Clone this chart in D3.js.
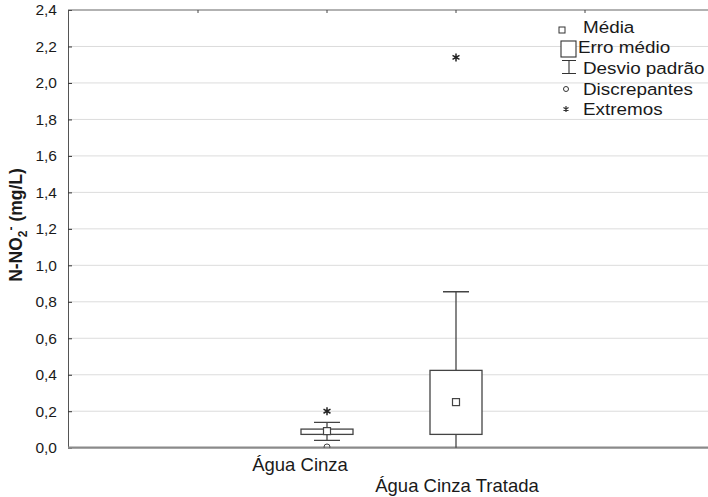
<!DOCTYPE html>
<html>
<head>
<meta charset="utf-8">
<script src="https://cdn.jsdelivr.net/npm/d3@7"></script>
<style>
  body { margin: 0; background: #fff; }
  text { font-family: "Liberation Sans", Arial, sans-serif; fill: #1a1a1a; }
</style>
</head>
<body>
<div id="chart"></div>
<script>
var categories = ["Água Cinza", "Água Cinza Tratada"];
var catPos = [2, 3];
var means = [0.091, 0.25];
var seLow = [0.073, 0.073];
var seHigh = [0.102, 0.424];
var sdLow = [0.04, -0.355];
var sdHigh = [0.139, 0.855];
var outliers = [[0.004], []];
var extremes = [[0.2], [2.14]];
var yTicks = [0, 0.2, 0.4, 0.6, 0.8, 1.0, 1.2, 1.4, 1.6, 1.8, 2.0, 2.2, 2.4];
var legendLabels = ["Média", "Erro médio", "Desvio padrão", "Discrepantes", "Extremos"];

var W = 708, H = 497;
var plotLeft = 68, plotTop = 10, plotBottom = 447.7;

var svg = d3.select("#chart").append("svg")
    .attr("width", W).attr("height", H);

var x = d3.scaleLinear().domain([0, 5]).range([69, 714]);
var y = d3.scaleLinear().domain([0, 2.4]).range([plotBottom, plotTop]);

svg.append("clipPath").attr("id", "plotclip")
  .append("rect").attr("x", plotLeft).attr("y", plotTop)
  .attr("width", W - plotLeft).attr("height", plotBottom - plotTop);

// grid
svg.selectAll(".grid").data(yTicks.slice(1, -1)).enter().append("line")
    .attr("x1", plotLeft).attr("x2", W)
    .attr("y1", function(d) { return y(d); }).attr("y2", function(d) { return y(d); })
    .attr("stroke", "#dcdcdc").attr("stroke-width", 1);

// left axis
var yAxis = d3.axisLeft(y).tickValues(yTicks).tickSizeInner(-4).tickSizeOuter(0).tickPadding(11)
    .tickFormat(function(d) { return d3.format(".1f")(d).replace(".", ","); });
var ga = svg.append("g").attr("transform", "translate(" + plotLeft + ",0)").call(yAxis);
ga.select(".domain").attr("stroke", "#555");
ga.selectAll(".tick line").attr("stroke", "#333");
ga.selectAll(".tick text").attr("font-size", "15.5px").attr("fill", "#222")
    .attr("font-family", "Liberation Sans, Arial, sans-serif");

// top border with ticks
svg.append("line").attr("x1", plotLeft).attr("x2", W).attr("y1", plotTop).attr("y2", plotTop)
    .attr("stroke", "#666").attr("stroke-width", 1.2);
svg.selectAll(".ttick").data([1, 2, 3, 4]).enter().append("line")
    .attr("x1", function(d) { return x(d); }).attr("x2", function(d) { return x(d); })
    .attr("y1", plotTop).attr("y2", plotTop + 3).attr("stroke", "#444");

// bottom axis
svg.append("line").attr("x1", plotLeft).attr("x2", W).attr("y1", plotBottom).attr("y2", plotBottom)
    .attr("stroke", "#8a8a8a").attr("stroke-width", 2.2);

var plot = svg.append("g").attr("clip-path", "url(#plotclip)");

categories.forEach(function(c, i) {
  var cx = x(catPos[i]);
  var bw = 52, cw = 26;
  // whiskers
  plot.append("line").attr("x1", cx).attr("x2", cx)
      .attr("y1", y(sdHigh[i])).attr("y2", y(seHigh[i])).attr("stroke", "#444").attr("stroke-width", 1.3);
  plot.append("line").attr("x1", cx).attr("x2", cx)
      .attr("y1", y(seLow[i])).attr("y2", y(sdLow[i])).attr("stroke", "#444").attr("stroke-width", 1.3);
  [sdHigh[i], sdLow[i]].forEach(function(v) {
    plot.append("line").attr("x1", cx - cw / 2).attr("x2", cx + cw / 2)
        .attr("y1", y(v)).attr("y2", y(v)).attr("stroke", "#444").attr("stroke-width", 1.3);
  });
  // box
  plot.append("rect").attr("x", cx - bw / 2).attr("width", bw)
      .attr("y", y(seHigh[i])).attr("height", y(seLow[i]) - y(seHigh[i]))
      .attr("fill", "#fff").attr("stroke", "#444").attr("stroke-width", 1.3);
  // mean
  plot.append("rect").attr("x", cx - 3.5).attr("y", y(means[i]) - 3.5).attr("width", 7).attr("height", 7)
      .attr("fill", "#fff").attr("stroke", "#444").attr("stroke-width", 1.2);
  outliers[i].forEach(function(v) {
    plot.append("circle").attr("cx", cx).attr("cy", y(v)).attr("r", 3)
        .attr("fill", "none").attr("stroke", "#444").attr("stroke-width", 1);
  });
  extremes[i].forEach(function(v) {
    plot.append("path").attr("d", d3.symbol().type(d3.symbolAsterisk).size(45)())
        .attr("transform", "translate(" + cx + "," + y(v) + ")")
        .attr("fill", "none").attr("stroke", "#222").attr("stroke-width", 1.5);
  });
});

// category labels (staggered)
var labelOff = [-27, 1], labelY = [471, 492];
categories.forEach(function(c, i) {
  svg.append("text").attr("x", x(catPos[i]) + labelOff[i]).attr("y", labelY[i])
      .attr("text-anchor", "middle").attr("font-size", "18.5px").text(c);
});

// y label
var yl = svg.append("text").attr("transform", "translate(22,225) rotate(-90)")
    .attr("text-anchor", "middle").attr("font-size", "17.5px").attr("font-weight", "bold");
yl.append("tspan").text("N-NO");
yl.append("tspan").attr("dy", 5).attr("font-size", "12px").text("2");
yl.append("tspan").attr("dy", -12).attr("font-size", "12px").text("-");
yl.append("tspan").attr("dy", 7).text(" (mg/L)");

// legend
var lg = svg.append("g");
var ly = [33, 53, 74, 95, 115];
lg.append("rect").attr("x", 559).attr("y", 27).attr("width", 6).attr("height", 6)
    .attr("fill", "#fff").attr("stroke", "#333").attr("stroke-width", 1);
lg.append("rect").attr("x", 561).attr("y", 41).attr("width", 15).attr("height", 16)
    .attr("fill", "#fff").attr("stroke", "#333").attr("stroke-width", 1.1);
lg.append("path").attr("d", "M562,60.5H576M569,60.5V73.5M562,73.5H576")
    .attr("fill", "none").attr("stroke", "#333").attr("stroke-width", 1.1);
lg.append("circle").attr("cx", 566).attr("cy", 89).attr("r", 2.5)
    .attr("fill", "none").attr("stroke", "#333").attr("stroke-width", 1);
lg.append("path").attr("d", d3.symbol().type(d3.symbolAsterisk).size(24)())
    .attr("transform", "translate(566,109)").attr("fill", "none").attr("stroke", "#333").attr("stroke-width", 1.2);
lg.selectAll("text").data(legendLabels).enter().append("text")
    .attr("transform", function(d, i) {
      return "translate(" + (i === 1 ? 578 : 583) + "," + ly[i] + ") scale(1.11,1)";
    })
    .attr("font-size", "17px")
    .text(function(d) { return d; });
</script>
</body>
</html>
